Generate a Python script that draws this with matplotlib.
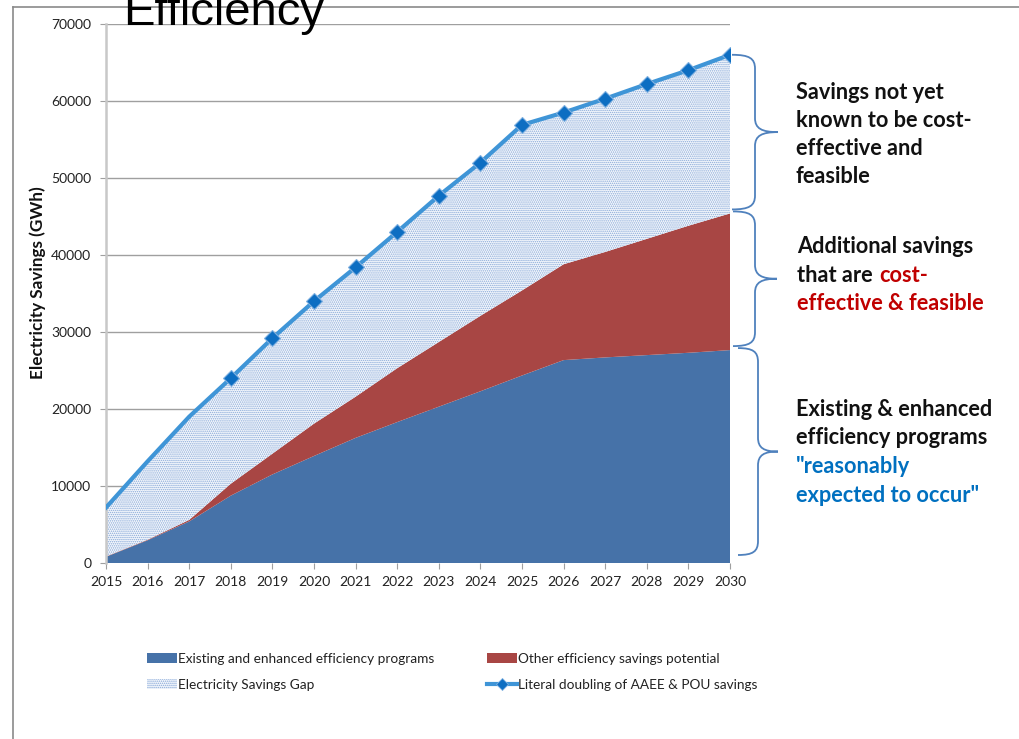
import matplotlib
matplotlib.use("Agg")
import matplotlib.pyplot as plt
import matplotlib.transforms as mtransforms
from matplotlib.path import Path
from matplotlib.patches import PathPatch, Patch
from matplotlib.lines import Line2D
import numpy as np

# ---- data (GWh) ----
years = list(range(2015, 2031))
existing_programs = [800, 2950, 5400, 8750, 11500, 13900, 16250, 18300,
                     20300, 22300, 24350, 26350, 26700, 27000, 27300, 27650]
other_potential = [50, 80, 200, 1550, 2700, 4200, 5350, 7000,
                   8400, 9800, 11050, 12450, 13700, 15100, 16500, 17750]
literal_doubling = [7200, 13200, 19000, 24000, 29200, 34000, 38400, 43000,
                    47700, 52000, 56900, 58500, 60300, 62200, 64000, 66000]
y_ticks = [0, 10000, 20000, 30000, 40000, 50000, 60000, 70000]

label_existing = "Existing and enhanced efficiency programs"
label_other = "Other efficiency savings potential"
label_gap = "Electricity Savings Gap"
label_line = "Literal doubling of AAEE & POU savings"

# ---- styling ----
BLUE = "#4672a8"
RED = "#a84644"
LINE = "#3f95d7"
MARKER = "#0d6ec2"
STIPPLE = "#88a9d8"
BRACE = "#4f81bd"
GRID = "#9f9f9f"
FONT = "Lato"

plt.rcParams["hatch.linewidth"] = 0.7

W, H = 1019, 739
fig = plt.figure(figsize=(W / 100, H / 100), dpi=100)

def fx(px):
    return px / W

def fy(py):
    return 1 - py / H

ax_left, ax_right, ax_top, ax_bottom = 106, 730, 24, 563
ax = fig.add_axes([fx(ax_left), fy(ax_bottom), (ax_right - ax_left) / W,
                   (ax_bottom - ax_top) / H])

x = np.array(years)
base = np.array(existing_programs, dtype=float)
stack_top = base + np.array(other_potential, dtype=float)
doubling = np.array(literal_doubling, dtype=float)

ax.fill_between(x, 0, base, facecolor=BLUE, edgecolor="none", zorder=2)
ax.fill_between(x, base, stack_top, facecolor=RED, edgecolor="none", zorder=2)
ax.fill_between(x, stack_top, doubling, facecolor="#f4f7fc", edgecolor=STIPPLE,
                hatch="........", linewidth=0, zorder=2)
ax.plot(x, doubling, color=LINE, lw=3, marker="D", markersize=8,
        markevery=list(range(3, len(years))), markerfacecolor=MARKER,
        markeredgecolor="#7fb0e0", markeredgewidth=0.8, zorder=4,
        solid_joinstyle="round")

ax.set_xlim(years[0], years[-1])
ax.set_ylim(y_ticks[0], y_ticks[-1])
ax.set_xticks(years)
ax.set_xticklabels([str(v) for v in years])
ax.set_yticks(y_ticks)
ax.set_yticklabels([str(v) for v in y_ticks])
ax.yaxis.grid(True, color=GRID, lw=1.0, zorder=0)
ax.set_axisbelow(True)
for s in ("top", "right", "bottom"):
    ax.spines[s].set_visible(False)
ax.spines["left"].set_color("#c8c8c8")
ax.spines["left"].set_linewidth(1.8)
ax.tick_params(axis="y", length=4.5, color=GRID, pad=6, labelsize=10,
               labelcolor="#222222")
ax.tick_params(axis="x", length=4, color=GRID, pad=5, labelsize=10,
               labelcolor="#222222")
for lab in ax.get_xticklabels() + ax.get_yticklabels():
    lab.set_fontfamily(FONT)

fig.text(fx(38), fy(283), "Electricity Savings (GWh)", rotation=90,
         ha="center", va="center", fontsize=12.3, fontweight="bold",
         family=FONT, color="#111111")

# ---- outer frame and heading ----
fig.add_artist(Line2D([fx(12.7), fx(12.7)], [0, fy(7.3)],
                      transform=fig.transFigure, color="#8a8a8a", lw=1.2,
                      zorder=0))
fig.add_artist(Line2D([fx(12.7), 1], [fy(7.3), fy(7.3)],
                      transform=fig.transFigure, color="#8a8a8a", lw=1.2,
                      zorder=0))
fig.text(fx(123), fy(25), "Efficiency", fontsize=34, family="Liberation Sans",
         ha="left", va="baseline", color="black", zorder=5)

# ---- curly braces beside the final year ----
trans = mtransforms.blended_transform_factory(ax.transAxes, ax.transData)
units_per_px = (y_ticks[-1] - y_ticks[0]) / (ax_bottom - ax_top)

def ax_frac(px):
    return (px - ax_left) / (ax_right - ax_left)

def brace(y_t, y_b, xs_px, xm_px, xt_px, r_px=14):
    xs, xm, xt = ax_frac(xs_px), ax_frac(xm_px), ax_frac(xt_px)
    r = r_px * units_per_px
    yc = (y_t + y_b) / 2
    verts = [
        (xs, y_t),
        (xs + 0.75 * (xm - xs), y_t), (xm, y_t - 0.25 * r), (xm, y_t - r),
        (xm, yc + r),
        (xm, yc + 0.25 * r), (xm + 0.3 * (xt - xm), yc), (xt, yc),
        (xm + 0.3 * (xt - xm), yc), (xm, yc - 0.25 * r), (xm, yc - r),
        (xm, y_b + r),
        (xm, y_b + 0.25 * r), (xs + 0.75 * (xm - xs), y_b), (xs, y_b),
    ]
    codes = [Path.MOVETO] + [Path.CURVE4] * 3 + [Path.LINETO] + \
            [Path.CURVE4] * 6 + [Path.LINETO] + [Path.CURVE4] * 3
    ax.add_patch(PathPatch(Path(verts, codes), transform=trans, fill=False,
                           edgecolor=BRACE, lw=1.3, clip_on=False, zorder=5))

gap = 4 * units_per_px
brace(doubling[-1], stack_top[-1] + gap, 732, 755, 778)
brace(stack_top[-1] + gap * 0.5, base[-1] + gap, 733, 755, 777)
brace(base[-1] + gap * 0.5, 0 + gap * 2, 738, 758, 778)

# ---- side notes ----
NOTE = dict(fontsize=15.7, fontweight="bold", family=FONT, ha="left",
            va="center")

def note_lines(x_px, y0_px, step, lines, color="#111111"):
    for i, t in enumerate(lines):
        fig.text(fx(x_px), fy(y0_px + i * step), t, color=color, **NOTE)

note_lines(796, 92.7, 28, ["Savings not yet", "known to be cost-",
                           "effective and", "feasible"])

note_lines(797, 246.7, 28.3, ["Additional savings"])
t_that = fig.text(fx(797), fy(275), "that are", color="#111111", **NOTE)
ax.annotate("cost-", xy=(1, 0.5), xycoords=t_that, xytext=(4.5, 0),
            textcoords="offset points", color="#c00000",
            annotation_clip=False, **NOTE)
note_lines(797, 303.3, 28, ["effective & feasible"], color="#c00000")

note_lines(796, 409, 28.7, ["Existing & enhanced", "efficiency programs"])
note_lines(796, 466.7, 28.3, ['"reasonably', 'expected to occur"'],
           color="#0070c0")

# ---- legend ----
h_existing = Patch(facecolor=BLUE, edgecolor="none")
h_other = Patch(facecolor=RED, edgecolor="none")
h_gap = Patch(facecolor="#f4f7fc", edgecolor=STIPPLE, hatch="........", lw=0)
h_line = Line2D([], [], color=LINE, lw=3, marker="D", markersize=6,
                markerfacecolor=MARKER, markeredgecolor="#7fb0e0",
                markeredgewidth=0.6)

LEG = dict(loc="upper left", frameon=False, borderpad=0, borderaxespad=0,
           handlelength=2.2, handleheight=0.7, handletextpad=0.1,
           labelspacing=1.0, prop={"family": FONT, "size": 9.8})
leg1 = fig.legend([h_existing, h_gap], [label_existing, label_gap],
                  bbox_to_anchor=(fx(147), fy(653)), **LEG)
leg2 = fig.legend([h_other, h_line], [label_other, label_line],
                  bbox_to_anchor=(fx(487), fy(653)), **LEG)
for lg in (leg1, leg2):
    for t in lg.get_texts():
        t.set_color("#222222")

fig.savefig("out.png", dpi=100)
